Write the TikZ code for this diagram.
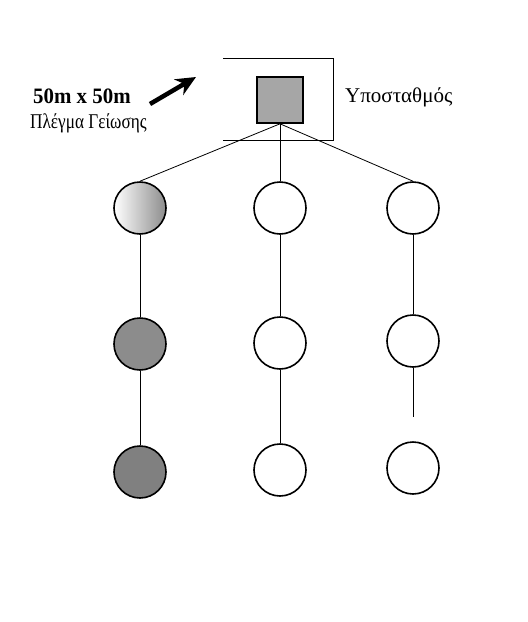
\documentclass[tikz,border=0pt]{standalone}
\usepackage{fontspec}
\setmainfont{Liberation Serif}
\usetikzlibrary{arrows.meta}

\begin{document}
\begin{tikzpicture}[x=1pt,y=-1pt,
    well/.style={circle,draw=black,line width=1.6pt,minimum size=52pt,inner sep=0pt},
    link/.style={line width=0.8pt}]
        % --- 1. Define Core Parameters ---
        \def\colA{140}
        \def\colB{280}
        \def\colC{413}
        \useasboundingbox (0,0) rectangle (528,622);

        % --- 2. Draw the Substation ---
        \draw[line width=1pt] (223,58) -- (333,58) -- (333,140) -- (223,140);
        \node[draw=black,line width=1.6pt,fill=black!35,minimum size=46pt,inner sep=0pt] (sub) at (\colB,100) {};
        \node[anchor=base west,inner sep=0pt,font=\fontsize{21}{24}\selectfont] (subLabel) at (345,102) {Υποσταθμός};

        % --- 3. Draw the Grid Label ---
        \node[anchor=base west,inner sep=0pt,font=\bfseries\fontsize{22}{24}\selectfont] (size) at (33,103) {\scalebox{0.95}[1]{50m x 50m}};
        \node[anchor=base west,inner sep=0pt,font=\fontsize{21}{24}\selectfont] (grid) at (30,128) {\scalebox{0.82}[1]{Πλέγμα Γείωσης}};
        \coordinate (ArrTail) at (150,104);
        \coordinate (ArrTip) at (196,77);
        \draw[-{Stealth[length=20pt,width=18pt]},line width=4.5pt] (ArrTail) -- (ArrTip);

        % --- 4. Draw the Electrodes ---
        \node[well,left color=white,right color=black!45] (a1) at (\colA,208) {};
        \node[well] (b1) at (\colB,208) {};
        \node[well] (c1) at (\colC,208) {};
        \node[well,fill=black!45] (a2) at (\colA,344) {};
        \node[well] (b2) at (\colB,343) {};
        \node[well] (c2) at (\colC,341) {};
        \node[well,fill=black!50] (a3) at (\colA,472) {};
        \node[well] (b3) at (\colB,470) {};
        \node[well] (c3) at (\colC,468) {};

        % --- 5. Draw the Connections ---
        \draw[link] (sub.south) -- (a1.north);
        \draw[link] (sub.south) -- (b1.north);
        \draw[link] (sub.south) -- (c1.north);
        \draw[link] (a1) -- (a2);
        \draw[link] (a2) -- (a3);
        \draw[link] (b1) -- (b2);
        \draw[link] (b2) -- (b3);
        \draw[link] (c1) -- (c2);
        \coordinate (cEnd) at (\colC,417);
        \draw[link] (c2) -- (cEnd);
    \end{tikzpicture}
\end{document}
